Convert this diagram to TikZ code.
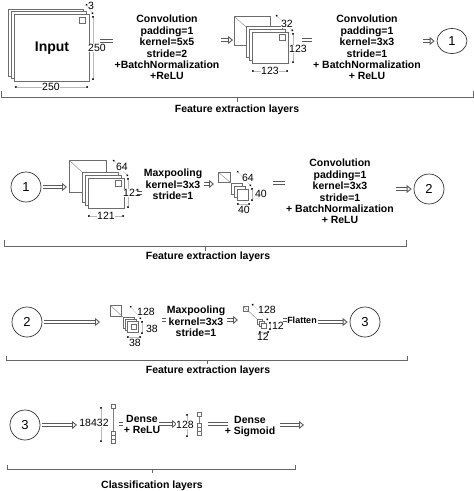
\documentclass[tikz,border=0pt]{standalone}
\usepackage{fontspec}
\setmainfont{Liberation Sans}
\usepackage{tikz}
\usetikzlibrary{arrows.meta}
\usetikzlibrary{shapes.geometric}

\begin{document}
\begin{tikzpicture}[x=1pt,y=-1pt,
    txt/.style={font=\bfseries\fontsize{10.5}{11.4}\selectfont,align=center,inner sep=0pt,anchor=north},
    num/.style={font=\fontsize{10.5}{11}\selectfont,inner sep=0.6pt,fill=white,anchor=base},
    fmap/.style={draw=gray!85!black,line width=0.7pt,fill=white},
    persp/.style={draw=gray,line width=0.4pt},
    dimline/.style={draw=gray!55,line width=0.3pt,{Circle[length=1.8pt,color=black]}-{Circle[length=1.8pt,color=black]}},
    hollow/.style={draw=gray!70!black,double=white,double distance=1.6pt,line width=0.9pt,-{Triangle[open,length=5pt,width=8pt]}},
    shaft/.style={draw=gray!70!black,double=white,double distance=1.6pt,line width=0.9pt},
    cnode/.style={draw=black!80,line width=0.7pt,circle,minimum size=30pt,inner sep=0pt,font=\fontsize{13}{13}\selectfont},
    brack/.style={draw=gray!80!black,line width=0.7pt},
    blbl/.style={font=\bfseries\fontsize{10.5}{11}\selectfont,inner sep=0pt,anchor=base}]
    \useasboundingbox (0,0) rectangle (474,491);

    % row 1
    \draw[fmap] (8,9) rectangle (83,76);
    \draw[fmap] (11,11) rectangle (86,78);
    \draw[fmap] (14,14) rectangle (89,81);
    \draw[fmap,line width=0.5pt] (79,17) rectangle (85,23);
    \node[font=\bfseries\fontsize{14}{14}\selectfont,inner sep=0pt] (inp) at (52,48) {Input};
    \draw[dimline] (86,4) -- (93,14);
    \node[num,fill=none] (inpc) at (91,9.7) {3};
    \draw[dimline] (93,16) -- (93,80);
    \node[num] (inph) at (97,51.7) {250};
    \draw[dimline] (15,87) -- (88,87);
    \node[num] (inpw) at (51,90.7) {250};

    \coordinate (ea1) at (100,41); \coordinate (ea2) at (113,41);
    \draw[shaft] (ea1) -- (ea2);
    \node[txt] (conva) at (167,15) {Convolution\\padding=1\\kernel=5x5\\stride=2\\+BatchNormalization\\+ReLU};
    \coordinate (aa1) at (221,40); \coordinate (aa2) at (233,40);
    \draw[hollow] (aa1) -- (aa2);

    \draw[fmap] (234,16) rectangle (270,45);
    \draw[persp] (234,16) -- (246,27);
    \draw[fmap] (246,26) rectangle (282,57);
    \draw[fmap] (249,29) rectangle (285,60);
    \draw[fmap] (252,32) rectangle (288,63);
    \draw[fmap,line width=0.5pt] (279,34) rectangle (285,40);
    \draw[dimline] (276,15) -- (293,31);
    \node[num] (sbc) at (287,27.7) {32};
    \draw[dimline] (293,33) -- (293,63);
    \node[num] (sbh) at (298,52.7) {123};
    \draw[dimline] (252,71) -- (288,71);
    \node[num] (sbw) at (270,74.7) {123};

    \coordinate (eb1) at (302,40); \coordinate (eb2) at (312,40);
    \draw[shaft] (eb1) -- (eb2);
    \node[txt] (convb) at (367,15) {Convolution\\padding=1\\kernel=3x3\\stride=1\\+ BatchNormalization\\+ ReLU};
    \node[cnode,ellipse,minimum width=30pt,minimum height=25pt] (oneA) at (452,41) {1};
    \coordinate (ab1) at (423,41);
    \draw[hollow,shorten >=2pt] (ab1) -- (oneA);

    \draw[brack] (1,91) -- (1,97) -- (473,97) -- (473,91);
    \draw[brack] (237,97) -- (237,102);
    \node[blbl] (fea) at (237,112.7) {Feature extraction layers};

    % row 2
    \node[cnode] (oneB) at (26,187) {1};
    \coordinate (ac1) at (67,187);
    \draw[hollow,shorten <=2pt] (oneB) -- (ac1);

    \draw[fmap] (69,160) rectangle (106,192);
    \draw[persp] (69,160) -- (82,172);
    \draw[fmap] (82,172) rectangle (118,202);
    \draw[fmap] (85,175) rectangle (121,205);
    \draw[fmap] (88,178) rectangle (124,208);
    \draw[fmap,line width=0.5pt] (115,180) rectangle (121,186);
    \draw[dimline] (113,160) -- (128,176);
    \node[num] (scc) at (122,170.7) {64};
    \draw[dimline] (128,178) -- (128,208);
    \node[num] (sch) at (132,196.7) {121};
    \draw[dimline] (88,216) -- (124,216);
    \node[num] (scw) at (106,219.7) {121};

    \coordinate (ec1) at (137,193); \coordinate (ec2) at (142,193);
    \draw[shaft] (ec1) -- (ec2);
    \node[txt] (poola) at (173,169) {Maxpooling\\kernel=3x3\\stride=1};
    \coordinate (ad1) at (204,184); \coordinate (ad2) at (214,184);
    \draw[hollow] (ad1) -- (ad2);

    \draw[fmap] (218,172) rectangle (230,182);
    \draw[persp] (218,172) -- (231,183);
    \draw[fmap] (231,183) rectangle (242,194);
    \draw[fmap] (234,186) rectangle (245,197);
    \draw[fmap] (237,189) rectangle (248,200);
    \draw[dimline] (237,171) -- (251,186);
    \node[num] (sdc) at (248,181.7) {64};
    \draw[dimline] (252,188) -- (252,201);
    \node[num] (sdh) at (261,197.7) {40};
    \draw[dimline] (237,204) -- (250,204);
    \node[num] (sdw) at (244,213.7) {40};

    \coordinate (ed1) at (273,183); \coordinate (ed2) at (285,183);
    \draw[shaft] (ed1) -- (ed2);
    \node[txt] (convc) at (340,159) {Convolution\\padding=1\\kernel=3x3\\stride=1\\+ BatchNormalization\\+ ReLU};
    \node[cnode] (twoA) at (429,189) {2};
    \coordinate (ae1) at (396,189);
    \draw[hollow,shorten >=2pt] (ae1) -- (twoA);

    \draw[brack] (4,240) -- (4,246) -- (406,246) -- (406,240);
    \draw[brack] (205,246) -- (205,251);
    \node[blbl] (feb) at (208,259.7) {Feature extraction layers};

    % row 3
    \node[cnode] (twoB) at (27,322) {2};
    \coordinate (af1) at (100,322);
    \draw[hollow,shorten <=2pt] (twoB) -- (af1);

    \draw[fmap] (110,305) rectangle (121,316);
    \draw[persp] (110,305) -- (123,317);
    \draw[fmap] (123,317) rectangle (134,328);
    \draw[fmap] (125,319) rectangle (136,330);
    \draw[fmap] (127,321) rectangle (138,332);
    \draw[fmap,line width=0.5pt] (131,324) rectangle (136,329);
    \draw[dimline] (130,306) -- (141,319);
    \node[num] (sec) at (146,315.7) {128};
    \draw[dimline] (142,321) -- (142,334);
    \node[num] (seh) at (152,332.7) {38};
    \draw[dimline] (127,337) -- (141,337);
    \node[num] (sew) at (135,346.7) {38};

    \coordinate (ee1) at (162,320); \coordinate (ee2) at (166,320);
    \draw[shaft] (ee1) -- (ee2);
    \node[txt] (poolb) at (196,306) {Maxpooling\\kernel=3x3\\stride=1};
    \coordinate (ag1) at (227,320); \coordinate (ag2) at (238,320);
    \draw[hollow] (ag1) -- (ag2);

    \draw[fmap,line width=0.5pt] (243,306) rectangle (248,311);
    \draw[persp] (243,306) -- (257,319);
    \draw[fmap,line width=0.5pt] (257,319) rectangle (262,324);
    \draw[fmap,line width=0.5pt] (259,321) rectangle (264,326);
    \draw[fmap,line width=0.5pt] (261,323) rectangle (266,328);
    \draw[dimline] (252,304) -- (268,320);
    \node[num] (sfc) at (267,313.7) {128};
    \draw[dimline] (270,322) -- (270,330);
    \node[num] (sfh) at (278,329.7) {12};
    \draw[dimline] (259,332) -- (269,332);
    \node[num,fill=none] (sfw) at (263,340.7) {12};

    \coordinate (ef1) at (283,320); \coordinate (ef2) at (287,320);
    \draw[shaft] (ef1) -- (ef2);
    \node[txt,anchor=base,font=\bfseries\fontsize{9}{10}\selectfont] (flat) at (302,323) {Flatten};
    \node[cnode] (threeA) at (365,322) {3};
    \coordinate (ah1) at (318,322);
    \draw[hollow,shorten >=2pt] (ah1) -- (threeA);

    \draw[brack] (6,356) -- (6,360) -- (407,360) -- (407,356);
    \draw[brack] (207,360) -- (207,364);
    \node[blbl] (fec) at (208,373.7) {Feature extraction layers};

    % row 4
    \node[cnode] (threeB) at (25,425) {3};
    \coordinate (ai1) at (77,425);
    \draw[hollow,shorten <=2pt] (threeB) -- (ai1);
    \draw[dimline] (101,407) -- (101,442);
    \node[num] (flen) at (94,426.7) {18432};
    \draw[persp] (113,408) -- (113,431);
    \foreach \y in {404.5,431,435,439}
        \draw[fmap,line width=0.5pt] (111,\y) rectangle (115,\y+4);

    \coordinate (eg1) at (119,424); \coordinate (eg2) at (123,424);
    \draw[shaft] (eg1) -- (eg2);
    \node[txt] (densea) at (142,415) {Dense\\+ ReLU};
    \coordinate (aj1) at (159,424); \coordinate (aj2) at (177,424);
    \draw[hollow] (aj1) -- (aj2);
    \draw[dimline] (187,414) -- (187,437);
    \node[num] (dlen) at (185,428.7) {128};
    \draw[persp] (199,416) -- (199,423);
    \foreach \y in {412.5,423,427,431}
        \draw[fmap,line width=0.5pt] (197,\y) rectangle (201,\y+4);

    \coordinate (eh1) at (208,424); \coordinate (eh2) at (228,424);
    \draw[shaft] (eh1) -- (eh2);
    \node[txt] (denseb) at (250,416) {Dense\\+ Sigmoid};
    \coordinate (ak1) at (280,425); \coordinate (ak2) at (304,425);
    \draw[hollow] (ak1) -- (ak2);

    \draw[brack] (7,465) -- (7,469) -- (295,469) -- (295,465);
    \draw[brack] (152,469) -- (152,473);
    \node[blbl] (cls) at (152,488.7) {Classification layers};
\end{tikzpicture}
\end{document}
